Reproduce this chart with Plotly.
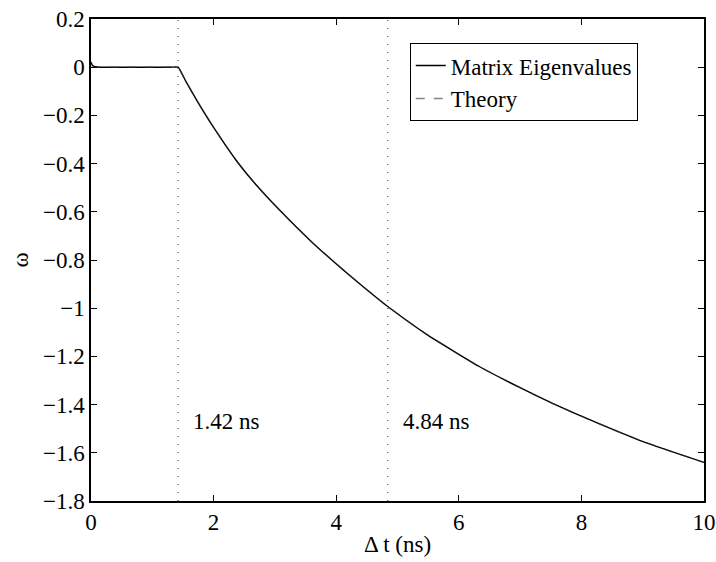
import plotly.graph_objects as go

# Matrix eigenvalues
t_matrix = [0.0, 0.02, 0.05, 0.1, 0.3, 1.0, 1.3, 1.42, 1.55, 1.75, 2.0, 2.37, 2.7, 3.08, 3.6,
            4.27, 4.71, 4.84, 5.5, 6.34, 7.0, 7.53, 8.2, 8.94, 9.5, 10.0]
w_matrix = [0.022, 0.009, 0.003, 0.001, 0.0, 0.0, 0.0, 0.0, -0.06, -0.148, -0.25, -0.387, -0.49,
            -0.594, -0.725, -0.875, -0.967, -0.993, -1.113, -1.243, -1.33, -1.395, -1.47,
            -1.547, -1.597, -1.64]

# Theory curve
t_theory = [0.0, 1.0, 1.3, 1.42, 1.55, 1.75, 2.0, 2.37, 2.7, 3.08, 3.6,
            4.27, 4.71, 4.84, 5.5, 6.34, 7.0, 7.53, 8.2, 8.94, 9.5, 10.0]
w_theory = [0.0, 0.0, 0.0, 0.0, -0.06, -0.148, -0.25, -0.387, -0.49,
            -0.594, -0.725, -0.875, -0.967, -0.993, -1.113, -1.243, -1.33, -1.395, -1.47,
            -1.547, -1.597, -1.64]

# Marker lines and their labels
marker_t = [1.42, 4.84]
marker_labels = ["1.42 ns", "4.84 ns"]
label_y = -1.47

x_ticks = [0, 2, 4, 6, 8, 10]
y_ticks = [0.2, 0, -0.2, -0.4, -0.6, -0.8, -1, -1.2, -1.4, -1.6, -1.8]
y_ticktext = ["0.2", "0"] + ["\u2212" + f"{abs(v):g}" for v in y_ticks[2:]]

FONT = "Liberation Serif, Times New Roman, serif"
FS = 23

fig = go.Figure()
fig.add_trace(go.Scatter(x=t_matrix, y=w_matrix, mode="lines", name="Matrix Eigenvalues",
                         line=dict(color="black", width=1.4, shape="spline", smoothing=0.4)))
fig.add_trace(go.Scatter(x=t_theory, y=w_theory, mode="lines", name="Theory",
                         line=dict(color="#333333", width=1.4, dash="dash", shape="spline", smoothing=0.4),
                         opacity=0.6))

for tm, lab in zip(marker_t, marker_labels):
    fig.add_shape(type="line", x0=tm, x1=tm, y0=0, y1=1, xref="x", yref="paper",
                  line=dict(color="#666666", width=1.3, dash="1px,7px"))
    fig.add_annotation(x=tm, y=label_y, text=lab, showarrow=False, xanchor="left",
                       xshift=13, font=dict(family=FONT, size=FS, color="black"))

axis_common = dict(showline=True, linecolor="black", linewidth=1.5, mirror="ticks",
                   ticks="inside", ticklen=6, tickcolor="black", tickwidth=1,
                   showgrid=False, zeroline=False, ticklabeloverflow="allow",
                   tickfont=dict(family=FONT, size=FS, color="black"))

fig.update_xaxes(range=[0, 10], tickvals=x_ticks, ticktext=[str(v) for v in x_ticks],
                 title=dict(text="\u0394 t (ns)", font=dict(family=FONT, size=FS, color="black"), standoff=2),
                 **axis_common)
fig.update_yaxes(range=[-1.8, 0.2], tickvals=y_ticks, ticktext=y_ticktext,
                 title=dict(text="\u03c9", font=dict(family=FONT, size=FS, color="black"), standoff=8),
                 **axis_common)

fig.update_layout(
    width=716, height=562,
    margin=dict(l=91, r=12, t=19, b=61, autoexpand=False),
    plot_bgcolor="white", paper_bgcolor="white",
    font=dict(family=FONT, size=FS, color="black"),
    legend=dict(x=0.52, y=0.95, xanchor="left", yanchor="top",
                bordercolor="black", borderwidth=1, bgcolor="white",
                font=dict(family=FONT, size=FS, color="black"),
                tracegroupgap=0),
    showlegend=True,
)

# remove the default page margin so the figure sits at the window's top-left corner
fig.write_html("out.html",
               config={"displayModeBar": False},
               post_script="document.body.style.margin='0';document.body.style.overflow='hidden';")
